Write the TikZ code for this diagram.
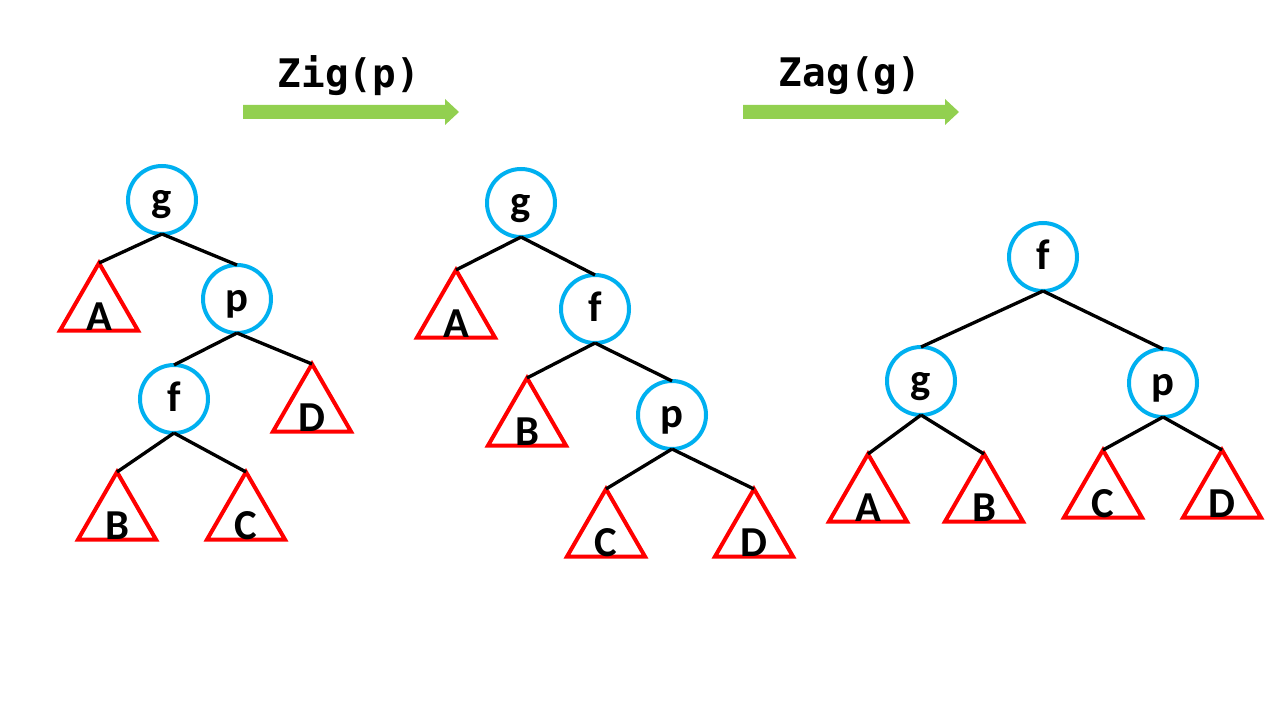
\documentclass[tikz,border=0pt]{standalone}
\usepackage{fontspec}
\setmainfont{Carlito}
\newfontfamily\titlefont{DejaVu Sans Mono}
\usetikzlibrary{shapes.geometric}
\definecolor{nodecyan}{RGB}{0,176,240}
\definecolor{subred}{RGB}{255,0,0}
\definecolor{arrowgreen}{RGB}{146,208,80}
\begin{document}
\begin{tikzpicture}[x=0.75pt,y=-0.75pt,
  keynode/.style={circle,draw=nodecyan,line width=3pt,minimum size=51pt,inner sep=0pt,outer sep=0pt},
  subtree/.style={regular polygon,regular polygon sides=3,draw=subred,line width=3pt,minimum size=67.5pt,inner sep=0pt,outer sep=0pt},
  letter/.style={anchor=base,inner sep=0pt,font=\fontsize{32}{34}\selectfont\bfseries},
  edge/.style={line width=2.5pt,black},
  optitle/.style={font=\titlefont\fontsize{29.5}{32}\selectfont\bfseries}]
\useasboundingbox (0,0) rectangle (1280,720);
% titles and arrows
\node[optitle] (zig) at (349,76) {Zig(p)};
\node[optitle] (zag) at (850,76) {Zag(g)};
\fill[arrowgreen] (243,105) -- (445,105) -- (445,99) -- (459,112) -- (445,125) -- (445,119) -- (243,119) -- cycle;
\fill[arrowgreen] (743,105) -- (945,105) -- (945,99) -- (959,112) -- (945,125) -- (945,119) -- (743,119) -- cycle;
% tree 1
\node[keynode] (g1) at (162,200) {};
\node[keynode] (p1) at (237,299) {};
\node[keynode] (f1) at (174,399) {};
\node[subtree] (A1) at (99,308) {};
\node[subtree] (D1) at (312,409) {};
\node[subtree] (B1) at (117,517) {};
\node[subtree] (C1) at (246,517) {};
% tree 2
\node[keynode] (g2) at (521,203) {};
\node[keynode] (f2) at (595,309) {};
\node[keynode] (p2) at (672,415) {};
\node[subtree] (A2) at (456,315) {};
\node[subtree] (B2) at (527,423) {};
\node[subtree] (C2) at (606,534) {};
\node[subtree] (D2) at (754,534) {};
% tree 3
\node[keynode] (f3) at (1043,257) {};
\node[keynode] (g3) at (921,381) {};
\node[keynode] (p3) at (1163,383) {};
\node[subtree] (A3) at (868,499) {};
\node[subtree] (B3) at (984,499) {};
\node[subtree] (C3) at (1103,495) {};
\node[subtree] (D3) at (1222,495) {};
% letters
\foreach \t/\l in {g1/g,p1/p,f1/f,g2/g,f2/f,p2/p,f3/f,g3/g,p3/p}
  \node[letter] (\t l) at ([yshift=-9pt]\t.center) {\l};
\foreach \t/\l in {A1/A,D1/D,B1/B,C1/C,A2/A,B2/B,C2/C,D2/D,A3/A,B3/B,C3/C,D3/D}
  \node[letter] (\t l) at ([yshift=-17pt]\t.center) {\l};
% edges
\draw[edge] (g1.south) -- (A1.corner 1);
\draw[edge] (g1.south) -- (p1.north);
\draw[edge] (p1.south) -- (f1.north);
\draw[edge] (p1.south) -- (D1.corner 1);
\draw[edge] (f1.south) -- (B1.corner 1);
\draw[edge] (f1.south) -- (C1.corner 1);
\draw[edge] (g2.south) -- (A2.corner 1);
\draw[edge] (g2.south) -- (f2.north);
\draw[edge] (f2.south) -- (B2.corner 1);
\draw[edge] (f2.south) -- (p2.north);
\draw[edge] (p2.south) -- (C2.corner 1);
\draw[edge] (p2.south) -- (D2.corner 1);
\draw[edge] (f3.south) -- (g3.north);
\draw[edge] (f3.south) -- (p3.north);
\draw[edge] (g3.south) -- (A3.corner 1);
\draw[edge] (g3.south) -- (B3.corner 1);
\draw[edge] (p3.south) -- (C3.corner 1);
\draw[edge] (p3.south) -- (D3.corner 1);
\end{tikzpicture}
\end{document}
